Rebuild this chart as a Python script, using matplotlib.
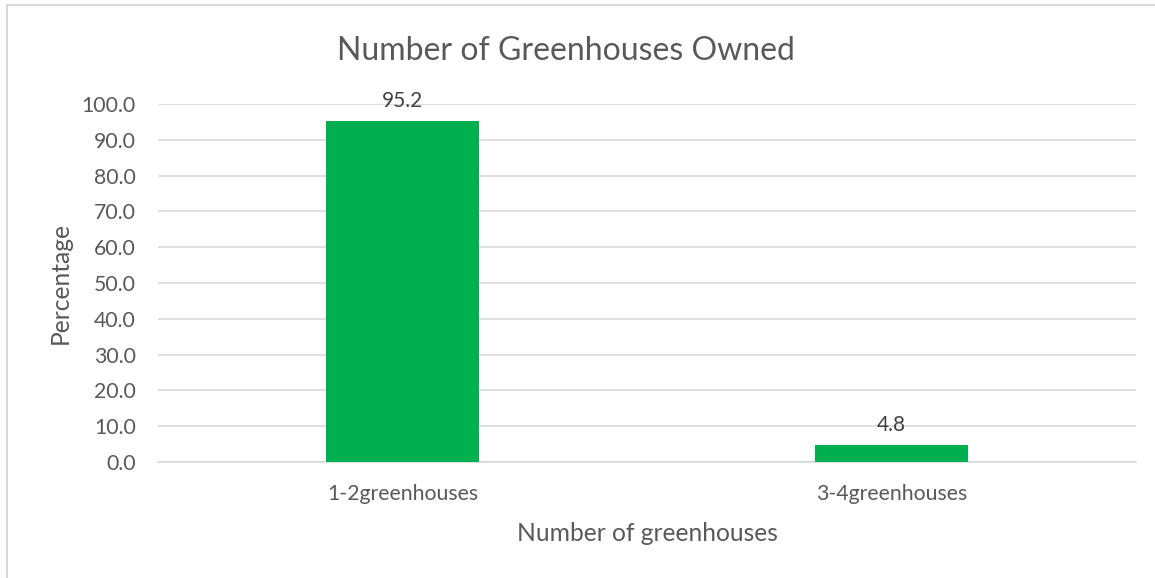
import matplotlib.pyplot as plt
from matplotlib.lines import Line2D

categories = ['1-2greenhouses', '3-4greenhouses']
percentages = [95.2, 4.8]
yticks = [0, 10, 20, 30, 40, 50, 60, 70, 80, 90, 100]

plt.rcParams['font.family'] = ['Lato', 'DejaVu Sans']
text_grey = '#595959'

fig = plt.figure(figsize=(11.55, 5.78), dpi=100)
ax = fig.add_axes([0.1368, 0.2007, 0.8467, 0.6194])

x = range(len(categories))
bars = ax.bar(x, percentages, width=0.313, color='#00B050', zorder=3)
for bar, val in zip(bars, percentages):
    ax.annotate(f'{val:.1f}', (bar.get_x() + bar.get_width() / 2, val),
                xytext=(0, 7), textcoords='offset points', ha='center', va='bottom',
                fontsize=15, color='#404040')

ax.set_xlim(-0.5, 1.5)
ax.set_ylim(0, 100)
ax.set_xticks(list(x))
ax.set_xticklabels(categories)
ax.set_yticks(yticks)
ax.set_yticklabels([f'{t:.1f}' for t in yticks])
ax.tick_params(axis='both', length=0, labelsize=15.3, colors=text_grey)
ax.tick_params(axis='x', pad=16)
ax.tick_params(axis='y', pad=16)

ax.grid(axis='y', color='#d9d9d9', linewidth=1.2, zorder=0)
for side in ['top', 'right', 'left']:
    ax.spines[side].set_visible(False)
ax.spines['bottom'].set_color('#d9d9d9')
ax.spines['bottom'].set_linewidth(1.2)

ax.set_xlabel('Number of greenhouses', fontsize=17.7, color=text_grey, labelpad=13)
ax.set_ylabel('Percentage', fontsize=17.7, color=text_grey, labelpad=7)
fig.text(0.49, 0.912, 'Number of Greenhouses Owned', ha='center', va='center',
         fontsize=23, color=text_grey)

# light chart-area border along the top and left edges
fig.add_artist(Line2D([7 / 1155, 7 / 1155], [0, 1 - 5 / 578], transform=fig.transFigure,
                      color='#d9d9d9', linewidth=1.5))
fig.add_artist(Line2D([7 / 1155, 1], [1 - 5 / 578, 1 - 5 / 578], transform=fig.transFigure,
                      color='#d9d9d9', linewidth=1.5))

fig.savefig('out.png', dpi=100)
